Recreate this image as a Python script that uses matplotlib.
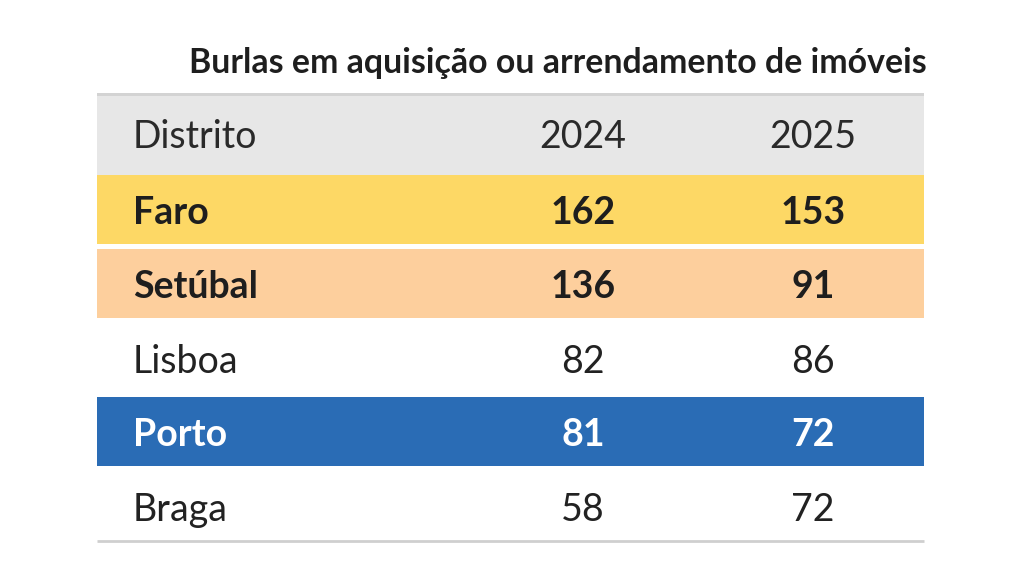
import matplotlib
matplotlib.use("Agg")
import matplotlib.pyplot as plt
from matplotlib.patches import Rectangle

title = "Burlas em aquisição ou arrendamento de imóveis"
headers = ["Distrito", "2024", "2025"]
districts = ["Faro", "Setúbal", "Lisboa", "Porto", "Braga"]
values_2024 = [162, 136, 82, 81, 58]
values_2025 = [153, 91, 86, 72, 72]
row_colors = ["#fdd865", "#fdcf9d", "#ffffff", "#2a6cb5", "#ffffff"]
text_colors = ["#1e1e1e", "#1e1e1e", "#222222", "#ffffff", "#222222"]
bold_rows = [True, True, False, True, False]

W, H = 1024, 563
fig = plt.figure(figsize=(W / 100, H / 100), dpi=100)
ax = fig.add_axes([0, 0, 1, 1])
ax.set_xlim(0, W)
ax.set_ylim(H, 0)
ax.axis("off")

plt.rcParams["font.family"] = ["Lato", "DejaVu Sans"]

left, right = 97, 924
col_label_x = 133
col_x = [583, 813]
fs = 27

# title
ax.text(557.5, 63, title, ha="center", va="center", fontsize=24.4,
        fontweight="bold", color="#1e1e1e")

# header
head_top, head_bot = 93, 175
ax.add_patch(Rectangle((left, head_top), right - left, head_bot - head_top,
                       facecolor="#e7e7e7", edgecolor="none"))
ax.add_patch(Rectangle((left, head_top), right - left, 3,
                       facecolor="#d3d3d3", edgecolor="none"))
hy = (head_top + head_bot) / 2
ax.text(col_label_x, hy, headers[0], ha="left", va="center_baseline",
        fontsize=fs, color="#2a2a2a")
for x, h in zip(col_x, headers[1:]):
    ax.text(x, hy, h, ha="center", va="center_baseline", fontsize=fs, color="#2a2a2a")

# rows
pitch = 74
band = 69
top0 = 175
for i, (d, a, b) in enumerate(zip(districts, values_2024, values_2025)):
    top = top0 + i * pitch
    ax.add_patch(Rectangle((left, top), right - left, band,
                           facecolor=row_colors[i], edgecolor="none"))
    cy = top + band / 2 + 1
    fw = "bold" if bold_rows[i] else "normal"
    ax.text(col_label_x, cy, d, ha="left", va="center_baseline", fontsize=fs,
            fontweight=fw, color=text_colors[i])
    ax.text(col_x[0], cy, str(a), ha="center", va="center_baseline", fontsize=fs,
            fontweight=fw, color=text_colors[i])
    ax.text(col_x[1], cy, str(b), ha="center", va="center_baseline", fontsize=fs,
            fontweight=fw, color=text_colors[i])

# bottom line
ax.plot([left, right], [541, 541], color="#cfcfcf", lw=2, solid_capstyle="butt")

fig.savefig("out.png", dpi=100, facecolor="white")
